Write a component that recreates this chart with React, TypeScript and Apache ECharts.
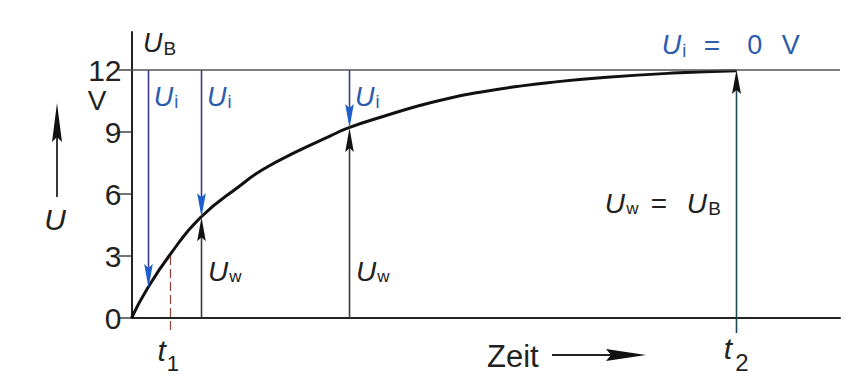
import React, { useEffect, useRef } from "react";
import * as echarts from "echarts";

const W = 849;
const H = 379;

// Charging curve of the capacitor: time (arbitrary units) and capacitor voltage (V)
const curveTime = [0, 2.2, 5.3, 9.7, 15.5, 18.6, 23.3, 28, 30.6, 35.5, 40.3, 45, 49.6, 54.4, 59.1, 67.1, 76.4, 85.4];
const curveVolt = [0, 1.4, 3.0, 4.85, 6.45, 7.2, 8.05, 8.8, 9.2, 9.75, 10.25, 10.65, 10.95, 11.2, 11.4, 11.65, 11.85, 11.97];

// Voltage axis ticks and supply voltage U_B
const yTicks = [0, 3, 6, 9, 12];
const supplyVolt = 12;

// Instants where U_i and U_w are shown, with the capacitor voltage there
const sampleTime = [2.3, 9.8, 30.7];
const sampleVolt = [1.45, 4.87, 9.2];
const t1Time = 5.4;
const t1Volt = 3.0;
const t2Time = 85.3;

const FONT = "'Liberation Sans', Arial, sans-serif";
const BLUE_TEXT = "#2b5cae";
const BLUE_HEAD = "#1d5fcc";
const UI_LINE = "#3b3a8e";

// kind: 0 = U_i arrow (down), 1 = U_w arrow (up), 2 = end arrow at t2, 3 = dashed marker at t1
const arrowData: number[][] = [];
sampleTime.forEach((t, i) => arrowData.push([t, supplyVolt, sampleVolt[i], 0]));
sampleTime.forEach((t, i) => {
  if (i > 0) arrowData.push([t, 0, sampleVolt[i], 1]);
});
arrowData.push([t2Time, -0.73, supplyVolt, 2]);
arrowData.push([t1Time, t1Volt, -0.6, 3]);

function renderArrow(params: any, api: any) {
  const t = api.value(0);
  const a = api.value(1);
  const b = api.value(2);
  const kind = api.value(3);
  const p0 = api.coord([t, a]);
  const p1 = api.coord([t, b]);
  const x = Math.round(p0[0]) + 0.5;
  if (kind === 3) {
    return {
      type: "line",
      shape: { x1: x, y1: p0[1], x2: x, y2: p1[1] },
      style: { stroke: "#8b4a3c", lineWidth: 1.3, lineDash: [9, 4] },
    };
  }
  const dir = p1[1] > p0[1] ? 1 : -1;
  const len = 24;
  const hw = kind === 2 ? 4.5 : 4.3;
  const tip = p1[1];
  const base = tip - dir * len;
  const lineColor = kind === 0 ? UI_LINE : kind === 1 ? "#3a3a3a" : "#1b4a57";
  const headColor = kind === 0 ? BLUE_HEAD : "#111";
  return {
    type: "group",
    children: [
      {
        type: "line",
        shape: { x1: x, y1: p0[1], x2: x, y2: base + dir * 6 },
        style: { stroke: lineColor, lineWidth: 1.6 },
      },
      {
        type: "polygon",
        shape: {
          points: [
            [x, tip],
            [x - hw, base],
            [x, base + dir * 4],
            [x + hw, base],
          ],
        },
        style: { fill: headColor },
      },
    ],
  };
}

function txt(x: number, y: number, text: string, size: number, opts: any = {}) {
  return {
    type: "text",
    x,
    y,
    silent: true,
    style: {
      text,
      fontSize: size,
      fontFamily: FONT,
      fontStyle: opts.italic ? "italic" : "normal",
      fill: opts.color || "#222",
      textAlign: opts.align || "left",
      textVerticalAlign: "middle",
    },
  };
}

// Symbol with subscript, e.g. U_i
function sym(x: number, y: number, main: string, sub: string, color: string, size = 27, subSize = 18) {
  return [
    txt(x, y, main, size, { italic: true, color }),
    txt(x + size * 0.76, y + size * 0.2, sub, subSize, { color }),
  ];
}

export default function App() {
  const ref = useRef<HTMLDivElement>(null);

  useEffect(() => {
    if (!ref.current) return;
    const chart = echarts.init(ref.current, undefined, { renderer: "svg" });
    const yMax = 13.84;
    chart.setOption({
      animation: false,
      backgroundColor: "#fff",
      grid: { left: 131.5, right: 9, top: 32, bottom: 61 },
      xAxis: {
        type: "value",
        min: 0,
        max: 100,
        axisLine: { show: true, onZero: false, lineStyle: { color: "#222", width: 2 } },
        axisTick: { show: false },
        axisLabel: { show: false },
        splitLine: { show: false },
      },
      yAxis: {
        type: "value",
        min: 0,
        max: yMax,
        axisLine: { show: true, lineStyle: { color: "#222", width: 2 } },
        axisTick: {
          show: true,
          length: 13,
          customValues: yTicks,
          lineStyle: { color: "#444", width: 1.5 },
        },
        axisLabel: {
          customValues: yTicks,
          fontSize: 30,
          fontFamily: FONT,
          color: "#222",
          margin: 10,
        },
        splitLine: { show: false },
      },
      series: [
        {
          type: "line",
          data: curveTime.map((t, i) => [t, curveVolt[i]]),
          smooth: 0.5,
          showSymbol: false,
          lineStyle: { color: "#111", width: 3 },
          markLine: {
            silent: true,
            symbol: "none",
            label: { show: false },
            lineStyle: { color: "#555", width: 1.6, type: "solid" },
            data: [{ yAxis: supplyVolt }],
          },
          z: 2,
        },
        {
          type: "custom",
          renderItem: renderArrow,
          data: arrowData,
          encode: { x: 0, y: [1, 2] },
          clip: false,
          z: 3,
        },
      ],
    });

    const px = (t: number, v: number) =>
      chart.convertToPixel({ xAxisIndex: 0, yAxisIndex: 0 }, [t, v]) as number[];

    const g: any[] = [];
    // unit under the top tick label
    g.push(txt(97, 100, "V", 28, { align: "center" }));
    // U_B at the top of the voltage axis
    g.push(...sym(143, 43, "U", "B", "#222", 27, 19));
    // U_i labels next to the downward arrows
    sampleTime.forEach((t) => {
      const p = px(t, 10.7);
      g.push(...sym(p[0] + 6, p[1], "U", "i", BLUE_TEXT));
    });
    // U_w labels next to the upward arrows
    sampleTime.forEach((t, i) => {
      if (i === 0) return;
      const p = px(t, 2.27);
      g.push(...sym(p[0] + 7, p[1], "U", "w", "#222", 28, 17));
    });
    // end state at t2
    const pE = px(t2Time, 5.56);
    g.push(...sym(pE[0] - 131, pE[1], "U", "w", "#222", 28, 17));
    g.push(txt(pE[0] - 77, pE[1], "=", 28, { align: "center" }));
    g.push(...sym(pE[0] - 49, pE[1], "U", "B", "#222", 28, 19));
    const pTop = px(t2Time, 13.2);
    g.push(...sym(pTop[0] - 74, pTop[1], "U", "i", BLUE_TEXT));
    g.push(txt(pTop[0] - 24, pTop[1], "=", 28, { align: "center", color: BLUE_TEXT }));
    g.push(txt(pTop[0] + 19, pTop[1], "0", 27, { align: "center", color: BLUE_TEXT }));
    g.push(txt(pTop[0] + 55, pTop[1], "V", 27, { align: "center", color: BLUE_TEXT }));
    // time marks t1 and t2
    const p1 = px(t1Time, 0);
    g.push(txt(p1[0] - 8, p1[1] + 32, "t", 30, { italic: true, align: "center" }));
    g.push(txt(p1[0] + 3, p1[1] + 45, "1", 22, { align: "center" }));
    const p2 = px(t2Time, 0);
    g.push(txt(p2[0] - 8, p2[1] + 30, "t", 30, { italic: true, align: "center" }));
    g.push(txt(p2[0] + 6, p2[1] + 44, "2", 24, { align: "center" }));
    // voltage axis name with arrow
    g.push({
      type: "line",
      silent: true,
      shape: { x1: 57, y1: 197, x2: 57, y2: 130 },
      style: { stroke: "#222", lineWidth: 1.8 },
    });
    g.push({
      type: "polygon",
      silent: true,
      shape: { points: [[57, 103], [52, 142], [57, 137], [62, 142]] },
      style: { fill: "#111" },
    });
    g.push(txt(55, 219, "U", 30, { italic: true, align: "center" }));
    // time axis name with arrow
    g.push(txt(487, 356, "Zeit", 31));
    g.push({
      type: "line",
      silent: true,
      shape: { x1: 552, y1: 355, x2: 612, y2: 355 },
      style: { stroke: "#222", lineWidth: 1.8 },
    });
    g.push({
      type: "polygon",
      silent: true,
      shape: { points: [[646, 355], [606, 349], [611, 355], [606, 361]] },
      style: { fill: "#111" },
    });

    chart.setOption({ graphic: g });
    return () => chart.dispose();
  }, []);

  return (
    <div
      ref={ref}
      style={{ position: "absolute", left: 0, top: 0, width: W, height: H, background: "#fff" }}
    />
  );
}
